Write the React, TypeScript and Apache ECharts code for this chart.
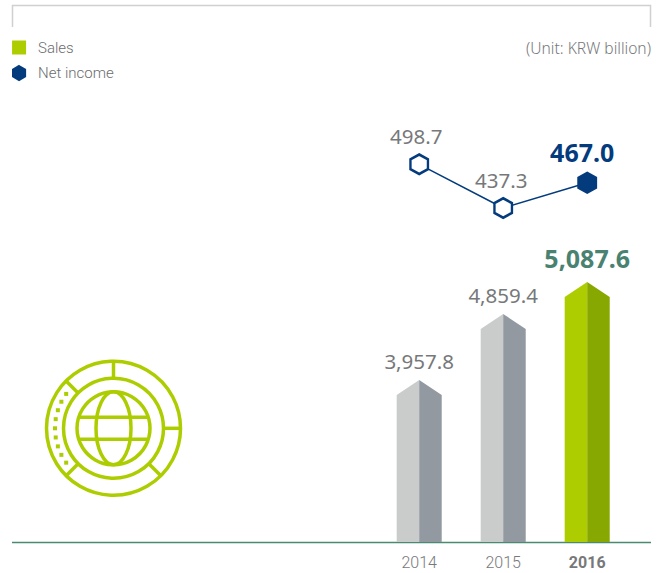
import React, { useEffect, useRef } from "react";
import * as echarts from "echarts";

const years = ["2014", "2015", "2016"];
// Printed figures
const salesValues = [3957.8, 4859.4, 5087.6];
const netIncomeValues = [498.7, 437.3, 467.0];
// The reference's drawing is not to scale with its figures, so the heights are read off the picture
const salesDrawnLevels = [147, 213, 245];
const netIncomeDrawnLevels = [377.7, 334, 359.3];

const HEX = "path://M50 0L93.3 25V75L50 100L6.7 75V25Z";
const NAVY = "#033b7d";
const LIME = "#aecd00";
const TEAL = "#4a8271";
const GREY_TEXT = "#77787a";
const NUM_FONT = "'Noto Sans'";
const UI_FONT = "Roboto";

const fmt = (v: number) => v.toLocaleString("en-US", { minimumFractionDigits: 1, maximumFractionDigits: 1 });

const CX = 113.5;
const CY = 428.3;
const spokeAngles = [-90, 0, 45, 135, -135];
const dotAngles = [-144, -153, -162, -171, 180, 171, 162, 153, 144];
const iconLine = { stroke: LIME, lineWidth: 3.5, fill: "none" };

function iconElements() {
  const out: any[] = [
    { type: "circle", shape: { cx: CX, cy: CY, r: 67 }, style: iconLine },
    { type: "circle", shape: { cx: CX, cy: CY, r: 50 }, style: iconLine },
    { type: "circle", shape: { cx: CX, cy: CY, r: 36.5 }, style: iconLine },
    { type: "ellipse", shape: { cx: CX, cy: CY, rx: 17.5, ry: 36.5 }, style: iconLine },
    { type: "line", shape: { x1: CX - 34.5, y1: CY - 11, x2: CX + 34.5, y2: CY - 11 }, style: iconLine },
    { type: "line", shape: { x1: CX - 34.5, y1: CY + 11, x2: CX + 34.5, y2: CY + 11 }, style: iconLine },
  ];
  spokeAngles.forEach((a) => {
    const c = Math.cos((a * Math.PI) / 180);
    const s = Math.sin((a * Math.PI) / 180);
    out.push({ type: "line", shape: { x1: CX + 50 * c, y1: CY + 50 * s, x2: CX + 67 * c, y2: CY + 67 * s }, style: iconLine });
  });
  dotAngles.forEach((a) => {
    const c = Math.cos((a * Math.PI) / 180);
    const s = Math.sin((a * Math.PI) / 180);
    out.push({ type: "rect", shape: { x: CX + 58.5 * c - 2, y: CY + 58.5 * s - 2, width: 4, height: 4 }, style: { fill: LIME } });
  });
  return out;
}

const barLabelStyle = [
  { size: 20.5, weight: 400, color: GREY_TEXT, dy: -34 },
  { size: 20.5, weight: 400, color: GREY_TEXT, dy: -34 },
  { size: 25, weight: 700, color: TEAL, dy: -39 },
];

function renderArrow(params: any, api: any) {
  const i = params.dataIndex;
  const [cx, shoulderY] = api.coord([api.value(0), api.value(1)]);
  const [, baseY] = api.coord([api.value(0), 0]);
  const half = api.size([1, 0])[0] * 0.268;
  const apexY = shoulderY - 15;
  const latest = i === years.length - 1;
  const left = latest ? LIME : "#c9cccb";
  const right = latest ? "#87a800" : "#9299a0";
  const st = barLabelStyle[i];
  return {
    type: "group",
    children: [
      { type: "polygon", shape: { points: [[cx - half, baseY], [cx - half, shoulderY], [cx, apexY], [cx, baseY]] }, style: { fill: left } },
      { type: "polygon", shape: { points: [[cx, baseY], [cx, apexY], [cx + half, shoulderY], [cx + half, baseY]] }, style: { fill: right } },
      {
        type: "text",
        style: {
          text: fmt(api.value(2)), x: cx, y: shoulderY + st.dy, align: "center", verticalAlign: "middle",
          fontFamily: NUM_FONT, fontSize: st.size, fontWeight: st.weight, fill: st.color,
        },
      },
    ],
  };
}

const lineLabels = [
  { color: GREY_TEXT, size: 20.5, weight: 400, offset: [-3, -1] },
  { color: GREY_TEXT, size: 20.5, weight: 400, offset: [-2, 0] },
  { color: NAVY, size: 25, weight: 700, offset: [-5, -1] },
];

export default function App() {
  const ref = useRef<HTMLDivElement>(null);
  useEffect(() => {
    const chart = echarts.init(ref.current!, undefined, { renderer: "svg" });
    chart.setOption({
      animation: false,
      grid: { left: 377.2, width: 252, top: 0, height: 542 },
      xAxis: {
        type: "category",
        data: years.map((y, i) =>
          i === years.length - 1 ? { value: y, textStyle: { fontWeight: 700 } } : y
        ),
        axisLine: { show: false },
        axisTick: { show: false },
        axisLabel: { color: GREY_TEXT, fontFamily: UI_FONT, fontWeight: 300, fontSize: 16, margin: 12 },
      },
      yAxis: { type: "value", min: 0, max: 542, show: false, splitLine: { show: false } },
      legend: {
        orient: "vertical",
        left: 12,
        top: 40,
        padding: 0,
        itemWidth: 14,
        itemHeight: 14,
        itemGap: 10,
        textStyle: { color: "#6b6c6e", fontFamily: UI_FONT, fontWeight: 300, fontSize: 15, padding: [1, 0, 0, 7] },
        data: [
          { name: "Sales", icon: "rect", itemStyle: { color: LIME } },
          { name: "Net income", icon: HEX, itemStyle: { color: NAVY } },
        ],
      },
      series: [
        {
          name: "Sales",
          type: "custom",
          renderItem: renderArrow,
          encode: { x: 0, y: 1 },
          itemStyle: { color: LIME },
          data: years.map((_, i) => [i, salesDrawnLevels[i], salesValues[i]]),
        },
        {
          name: "Net income",
          type: "line",
          symbol: HEX,
          symbolSize: [17.5, 19.5],
          lineStyle: { color: NAVY, width: 1.5 },
          itemStyle: { color: "#fff", borderColor: NAVY, borderWidth: 2.5 },
          encode: { x: 0, y: 1 },
          data: years.map((_, i) => ({
            value: [i, netIncomeDrawnLevels[i], netIncomeValues[i]],
            itemStyle: i === years.length - 1 ? { color: NAVY, borderColor: NAVY } : undefined,
            label: {
              show: true,
              position: "top",
              distance: 6,
              formatter: fmt(netIncomeValues[i]),
              color: lineLabels[i].color,
              fontFamily: NUM_FONT,
              fontSize: lineLabels[i].size,
              fontWeight: lineLabels[i].weight,
              offset: lineLabels[i].offset,
            },
          })),
        },
      ],
      graphic: [
        { type: "polyline", shape: { points: [[12.5, 27], [12.5, 5.5], [650.5, 5.5], [650.5, 27]] }, style: { stroke: "#cfd0d0", lineWidth: 1.5, fill: "none" } },
        { type: "line", shape: { x1: 12, y1: 542.5, x2: 651, y2: 542.5 }, style: { stroke: "#4a8a72", lineWidth: 1.5 } },
        { type: "text", style: { text: "(Unit: KRW billion)", x: 651, y: 48, align: "right", verticalAlign: "middle", fontFamily: NUM_FONT, fontWeight: 300, fontSize: 15.6, fill: GREY_TEXT } },
        ...iconElements(),
      ],
    });
    return () => chart.dispose();
  }, []);
  return <div ref={ref} style={{ position: "absolute", left: 0, top: 0, width: 661, height: 573 }} />;
}
